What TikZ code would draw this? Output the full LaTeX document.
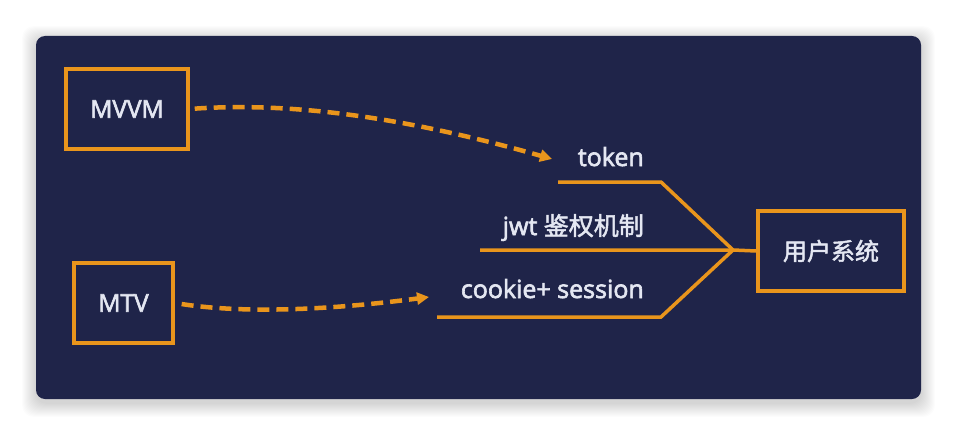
\documentclass[tikz,border=0pt]{standalone}
\usepackage{fontspec}
\setmainfont{Open Sans}
\newfontfamily\labelfont[FakeBold=2.5]{Open Sans}
\newfontfamily\cjk[FakeBold=2]{Noto Sans CJK SC}
\usetikzlibrary{arrows.meta, positioning}
\definecolor{panelnavy}{HTML}{1F2449}
\definecolor{lineorange}{HTML}{E9951C}
\definecolor{textwhite}{HTML}{E4E7F2}

\begin{document}
\begin{tikzpicture}[
    x=1pt, y=-1pt,
    box/.style={rectangle, draw=lineorange, line width=3.5pt, minimum height=80pt,
                text=textwhite, font=\labelfont\fontsize{24.5}{28}\selectfont},
    tag/.style={text=textwhite, font=\labelfont\fontsize{25}{29}\selectfont, inner sep=0pt, anchor=base east},
    wire/.style={draw=lineorange, line width=3.5pt},
    dasharrow/.style={wire, line width=4.5pt, dash pattern=on 12pt off 7pt, -{Triangle[length=12pt,width=12pt]}}
]

% page and panel
\useasboundingbox (0,0) rectangle (958,436);
\fill[white] (0,0) rectangle (958,436);
\foreach \s in {1,...,14}
    \fill[black, opacity=0.012, rounded corners=12pt] (36-\s,40-\s) rectangle (921+\s,403+\s);
\fill[panelnavy, rounded corners=9pt] (36,36) rectangle (921,399);

% boxes
\node[box, minimum width=122pt] (mvvm) at (127,109) {MVVM};
\node[box, minimum width=99pt]  (mtv)  at (123.5,303) {MTV};
\node[box, minimum width=146pt, font=\cjk\fontsize{24}{28}\selectfont] (user) at (831,251) {用户系统};

% labels over the lines
\node[tag] (token)  at (644,166) {token};
\node[tag] (jwt)    at (644,235) {jwt {\cjk 鉴权机制}};
\node[tag] (cookie) at (644,298) {cookie+ session};

% the three lines into the hub
\coordinate (hub)     at (733,250);
\coordinate (tokenL)  at (558,182);
\coordinate (tokenK)  at (661,182);
\coordinate (jwtL)    at (480,250);
\coordinate (cookieL) at (437,317);
\coordinate (cookieK) at (661,317);

\draw[wire] (tokenL) -- (tokenK) -- (hub);
\draw[wire] (jwtL) -- (hub) -- (user.west);
\draw[wire] (cookieL) -- (cookieK) -- (hub);

% dashed arrows
\coordinate (tokenTip)  at (552,159);
\coordinate (cookieTip) at (429,297);

\draw[dasharrow, shorten <=5pt] (mvvm.east) .. controls (320,100) and (450,130) .. (tokenTip);
\draw[dasharrow, shorten <=7pt] (mtv.east) .. controls (260,316) and (360,306) .. (cookieTip);

\end{tikzpicture}
\end{document}
